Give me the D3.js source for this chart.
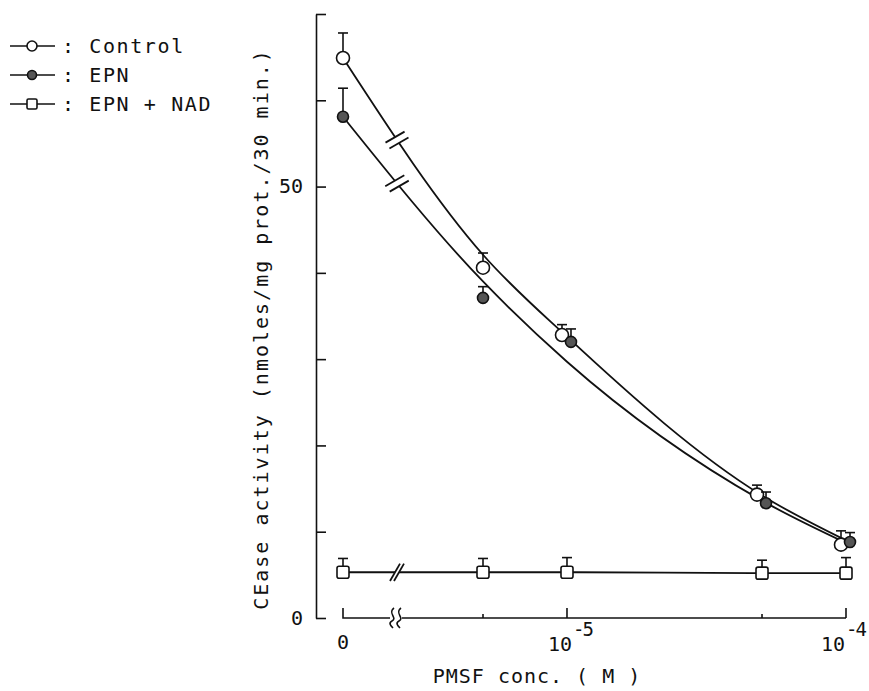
<!DOCTYPE html>
<html>
<head>
<meta charset="utf-8">
<script src="https://cdn.jsdelivr.net/npm/d3@7"></script>
<style>
  body { margin: 0; background: #fff; }
  text { font-family: "DejaVu Sans Mono", monospace; fill: #111; }
</style>
</head>
<body>
<div id="chart"></div>
<script>
// PMSF concentrations (M); 0 sits left of the axis break
const conc = [0, 5e-6, 1e-5, 5e-5, 1e-4];

// measured points (mean, +SE)
const controlMean = [64.9, 40.6, 32.8, 14.3, 8.5];
const controlErr = [2.9, 1.7, 1.2, 1.1, 1.6];
const epnMean = [58.1, 37.1, 32.0, 13.3, 8.8];
const epnErr = [3.3, 1.3, 1.5, 1.3, 1.1];
const nadMean = [5.3, 5.3, 5.3, 5.2, 5.2];
const nadErr = [1.6, 1.6, 1.7, 1.5, 1.8];

// hand-drawn fitted curves
const controlFit = [64.9, 42.1, 32.6, 14.2, 9.0];
const epnFit = [58.1, 39.0, 29.7, 13.6, 8.7];
const nadFit = [5.3, 5.3, 5.3, 5.2, 5.2];

const yTicks = [0, 10, 20, 30, 40, 50, 60, 70];
const yLabels = [0, 50];
const xMajor = [1e-5, 1e-4];
const xMinor = [5e-6, 5e-5];
const xExpLabels = [[1e-5, "5"], [1e-4, "4"]];

const width = 869, height = 691;

const svg = d3.select("#chart").append("svg")
  .attr("width", width)
  .attr("height", height);

const y = d3.scaleLinear().domain([0, 70]).range([618, 14]);
const xLog = d3.scaleLog().domain([5e-6, 1e-4]).range([483, 846]);
const xZero = 343;
const xp = (v) => (v === 0 ? xZero : xLog(v));

const axisX = 316;

// y axis: ticks point inward
const yAxis = svg.append("g")
  .attr("transform", "translate(" + axisX + ",0)")
  .call(d3.axisLeft(y).tickValues(yTicks).tickSizeInner(-10).tickSizeOuter(0).tickPadding(13)
    .tickFormat((d) => (yLabels.includes(d) ? d : "")));
yAxis.select(".domain").attr("stroke", "#111").attr("stroke-width", 1.6);
yAxis.selectAll(".tick line").attr("stroke", "#111").attr("stroke-width", 1.6);
yAxis.selectAll(".tick text")
  .style("font-family", "DejaVu Sans Mono")
  .style("font-size", "20px")
  .attr("fill", "#111");

// x axis, drawn by hand because of the break
const xAxisY = y(0);
const xa = svg.append("g").attr("stroke", "#111").attr("stroke-width", 1.6).attr("fill", "none");
xa.append("path").attr("d", "M" + xp(0) + "," + (xAxisY - 10) + "V" + xAxisY + "H390");
xa.append("path").attr("d", "M402," + xAxisY + "H" + xp(1e-4));
// wavy break on the axis
[392, 399].forEach((bx) => {
  xa.append("path")
    .attr("d", "M" + (bx + 2) + ",608 C" + (bx - 5) + ",613 " + (bx + 6) + ",618 " + bx + ",621 C" +
      (bx - 4) + ",623 " + (bx - 1) + ",626 " + (bx + 1) + ",628");
});
xMajor.forEach((v) => {
  xa.append("line").attr("x1", xp(v)).attr("x2", xp(v)).attr("y1", xAxisY).attr("y2", xAxisY - 10);
});
xMinor.forEach((v) => {
  xa.append("line").attr("x1", xp(v)).attr("x2", xp(v)).attr("y1", xAxisY).attr("y2", xAxisY - 4);
});

// x tick labels
svg.append("text").attr("x", xp(0)).attr("y", 649).attr("text-anchor", "middle")
  .style("font-size", "20px").text("0");
xExpLabels.forEach(([v, e], i) => {
  const t = svg.append("text")
    .attr("x", xp(v) - (i === 0 ? 19 : 25))
    .attr("y", 651)
    .style("font-size", "20px");
  t.append("tspan").text("10");
  t.append("tspan").attr("dx", 1).attr("dy", -15)
    .style("font-size", "19px").style("letter-spacing", "-2px")
    .text("-" + e);
});

// axis titles
svg.append("text")
  .attr("transform", "translate(268,329) rotate(-90)")
  .attr("text-anchor", "middle")
  .style("font-size", "20px")
  .style("letter-spacing", "2px")
  .text("CEase activity (nmoles/mg prot./30 min.)");

svg.append("text")
  .attr("x", 537).attr("y", 683)
  .attr("text-anchor", "middle")
  .style("font-size", "20px")
  .style("letter-spacing", "1px")
  .text("PMSF conc. ( M )");

// fitted curves
const line = d3.line()
  .x((d) => xp(d[0]))
  .y((d) => y(d[1]))
  .curve(d3.curveMonotoneX);

const series = [
  { key: "control", mean: controlMean, err: controlErr, fit: controlFit, dodge: -5, mark: 22, slash: 30 },
  { key: "epn", mean: epnMean, err: epnErr, fit: epnFit, dodge: 4, mark: 22, slash: 30 },
  { key: "nad", mean: nadMean, err: nadErr, fit: nadFit, dodge: 0, mark: 20, slash: 60 }
];

series.forEach((s) => {
  const path = svg.append("path")
    .datum(conc.map((c, i) => [c, s.fit[i]]))
    .attr("fill", "none")
    .attr("stroke", "#111")
    .attr("stroke-width", 1.8)
    .attr("d", line);

  // break mark "//" where the curve crosses x = 397
  const node = path.node();
  const total = node.getTotalLength();
  let lo = 0, hi = total;
  for (let k = 0; k < 30; k++) {
    const mid = (lo + hi) / 2;
    if (node.getPointAtLength(mid).x < 397) lo = mid; else hi = mid;
  }
  const p = node.getPointAtLength(lo);
  const p2 = node.getPointAtLength(Math.min(total, lo + 1));
  const tx = p2.x - p.x, ty = p2.y - p.y, tl = Math.hypot(tx, ty) || 1;
  const ux = tx / tl, uy = ty / tl;
  const a = s.slash * Math.PI / 180;
  const mx = Math.cos(a), my = -Math.sin(a);
  const half = s.mark / 2, gap = s.key === "nad" ? 2 : 3.5;
  const g = svg.append("g");
  const corners = [[-gap, -half], [gap, -half], [gap, half], [-gap, half]]
    .map(([o, l]) => [p.x + ux * o + mx * l, p.y + uy * o + my * l]);
  g.append("polygon").attr("points", corners.map((c) => c.join(",")).join(" ")).attr("fill", "#fff");
  [-gap, gap].forEach((o) => {
    g.append("line")
      .attr("x1", p.x + ux * o - mx * half).attr("y1", p.y + uy * o - my * half)
      .attr("x2", p.x + ux * o + mx * half).attr("y2", p.y + uy * o + my * half)
      .attr("stroke", "#111").attr("stroke-width", 1.8);
  });
});

// error bars and markers
series.forEach((s) => {
  const px = (c) => xp(c) + (c >= 1e-5 ? s.dodge : 0);
  const g = svg.append("g").attr("stroke", "#111").attr("stroke-width", 1.6);
  conc.forEach((c, i) => {
    const cx = px(c);
    const top = y(s.mean[i] + s.err[i]);
    g.append("line").attr("x1", cx).attr("x2", cx).attr("y1", y(s.mean[i])).attr("y2", top);
    g.append("line").attr("x1", cx - 5).attr("x2", cx + 5).attr("y1", top).attr("y2", top);
  });
  conc.forEach((c, i) => {
    const cx = px(c), cy = y(s.mean[i]);
    if (s.key === "control") {
      g.append("circle").attr("cx", cx).attr("cy", cy).attr("r", 6.5).attr("fill", "#fff");
    } else if (s.key === "epn") {
      g.append("circle").attr("cx", cx).attr("cy", cy).attr("r", 5.5).attr("fill", "#555");
    } else {
      g.append("rect").attr("x", cx - 6).attr("y", cy - 6).attr("width", 12).attr("height", 12)
        .attr("rx", 2).attr("fill", "#fff");
    }
  });
});

// legend
const legendItems = [["control", "Control"], ["epn", "EPN"], ["nad", "EPN + NAD"]];
legendItems.forEach(([key, label], i) => {
  const ry = 46 + i * 29;
  const row = svg.append("g").attr("stroke", "#111").attr("stroke-width", 1.6);
  row.append("line").attr("x1", 10).attr("x2", 55).attr("y1", ry).attr("y2", ry);
  if (key === "control") row.append("circle").attr("cx", 32).attr("cy", ry).attr("r", 5).attr("fill", "#fff");
  else if (key === "epn") row.append("circle").attr("cx", 32).attr("cy", ry).attr("r", 4.5).attr("fill", "#555");
  else row.append("rect").attr("x", 27).attr("y", ry - 5).attr("width", 10).attr("height", 10).attr("rx", 1.5).attr("fill", "#fff");
  svg.append("text")
    .attr("x", 62).attr("y", ry + 7)
    .style("font-size", "20px")
    .style("letter-spacing", "1.6px")
    .text(": " + label);
});
</script>
</body>
</html>
